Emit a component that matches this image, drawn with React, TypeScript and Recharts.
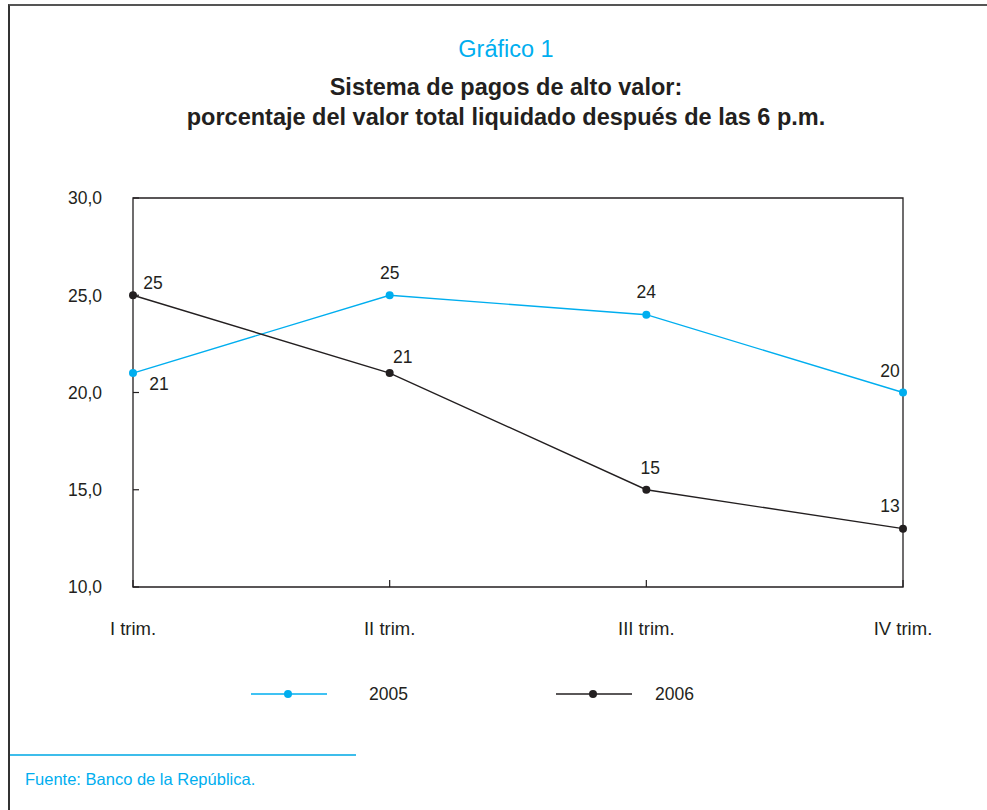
import React from 'react'
import { LineChart, Line, XAxis, YAxis, ReferenceArea, Legend, LabelList } from 'recharts'

const quarters = ['I trim.', 'II trim.', 'III trim.', 'IV trim.']
const values2005 = [21, 25, 24, 20]
const values2006 = [25, 21, 15, 13]
const yTicks = [10, 15, 20, 25, 30]

const CYAN = '#00AEEF'
const DARK = '#231F20'
const SANS = "'Liberation Sans', Arial, sans-serif"

// where each value label sits relative to its dot
const labelOffsets2005 = [[26, 11], [0, -23], [0, -23], [-13, -22]]
const labelOffsets2006 = [[20, -13], [13, -16], [4, -22], [-13, -23]]

const data = quarters.map((q, i) => ({ name: q, y2005: values2005[i], y2006: values2006[i] }))

const series = [
    { key: 'y2005', label: '2005', color: CYAN, offsets: labelOffsets2005, legendLeft: 251, textGap: 118 },
    { key: 'y2006', label: '2006', color: DARK, offsets: labelOffsets2006, legendLeft: 556, textGap: 99 },
]

const Y_MARGIN = 31
const X_MARGIN = 34

const YTick = (props: any) => {
    const { x, y, payload } = props
    const txt = Number(payload.value).toFixed(1).replace('.', ',')
    return (
        <g>
            <line x1={x + Y_MARGIN} x2={x + Y_MARGIN + 6} y1={y} y2={y} stroke={DARK} strokeWidth={1.2} />
            <text x={x} y={y} dy="0.36em" textAnchor="end" fontFamily={SANS} fontSize={17.5} fill={DARK}>{txt}</text>
        </g>
    )
}

const XTick = (props: any) => {
    const { x, y, payload } = props
    return (
        <g>
            <line x1={x} x2={x} y1={y - X_MARGIN} y2={y - X_MARGIN - 7} stroke={DARK} strokeWidth={1.2} />
            <text x={x} y={y} dy="0.75em" textAnchor="middle" fontFamily={SANS} fontSize={18.5} fill={DARK}>{payload.value}</text>
        </g>
    )
}

const makeLabel = (offsets: number[][]) => (props: any) => {
    const { x, y, value, index } = props
    const [dx, dy] = offsets[index] || [0, -20]
    return (
        <text x={x + dx} y={y + dy} dy="0.36em" textAnchor="middle" fontFamily={SANS} fontSize={17.5} fill={DARK}>
            {value}
        </text>
    )
}

const LegendContent = () => (
    <div style={{ position: 'relative', height: 30 }}>
        {series.map((s) => (
            <div key={s.key} style={{ position: 'absolute', left: s.legendLeft, top: 0 }}>
                <svg width={80} height={30} style={{ position: 'absolute', left: 0, top: 0 }}>
                    <line x1={0} x2={76} y1={15} y2={15} stroke={s.color} strokeWidth={1.5} />
                    <circle cx={37} cy={15} r={4} fill={s.color} />
                </svg>
                <span style={{ position: 'absolute', left: s.textGap, top: 4, fontFamily: SANS, fontSize: 17.5, color: DARK, lineHeight: '22px' }}>
                    {s.label}
                </span>
            </div>
        ))}
    </div>
)

const App = () => {
    return (
        <div style={{ position: 'absolute', left: 0, top: 0, width: 987, height: 810, background: '#fff', overflow: 'hidden' }}>
            <div style={{ position: 'absolute', left: 8, top: 4, width: 1000, height: 820, borderTop: '2px solid #555', borderLeft: '2px solid #333' }} />

            <div style={{ position: 'absolute', left: 25, top: 35, width: 962, textAlign: 'center', fontFamily: SANS, fontSize: 23.5, lineHeight: '28px', color: CYAN }}>
                Gráfico 1
            </div>
            <div style={{ position: 'absolute', left: 25, top: 72, width: 962, textAlign: 'center', fontFamily: SANS, fontWeight: 'bold', fontSize: 23.5, lineHeight: '30px', color: DARK }}>
                Sistema de pagos de alto valor:<br />
                porcentaje del valor total liquidado después de las 6 p.m.
            </div>

            <div style={{ position: 'absolute', left: 0, top: 0 }}>
                <LineChart width={987} height={810} data={data} margin={{ top: 198, right: 84, bottom: 193, left: 73 }}>
                    <ReferenceArea x1={quarters[0]} x2={quarters[quarters.length - 1]} y1={10} y2={30} fill="none" stroke={DARK} strokeWidth={1.3} />
                    <XAxis dataKey="name" height={30} axisLine={false} tickLine={false} tickSize={0} tickMargin={X_MARGIN} tick={<XTick />} interval={0} />
                    <YAxis domain={[10, 30]} ticks={yTicks} width={60} axisLine={false} tickLine={false} tickSize={0} tickMargin={Y_MARGIN} tick={<YTick />} />
                    <Legend layout="horizontal" verticalAlign="middle" align="center" content={<LegendContent />}
                        wrapperStyle={{ position: 'absolute', top: 679, left: 0, width: 987 }} />
                    {series.map((s) => (
                        <Line key={s.key} dataKey={s.key} name={s.label} stroke={s.color} strokeWidth={1.4}
                            dot={{ r: 4, fill: s.color, stroke: 'none' }} activeDot={false} isAnimationActive={false}>
                            <LabelList dataKey={s.key} content={makeLabel(s.offsets)} />
                        </Line>
                    ))}
                </LineChart>
            </div>

            <div style={{ position: 'absolute', left: 10, top: 754, width: 346, height: 2, background: '#3DBDEB' }} />
            <div style={{ position: 'absolute', left: 25, top: 769, fontFamily: SANS, fontSize: 16.5, lineHeight: '20px', color: CYAN }}>
                Fuente: Banco de la República.
            </div>
        </div>
    )
}

export default App
